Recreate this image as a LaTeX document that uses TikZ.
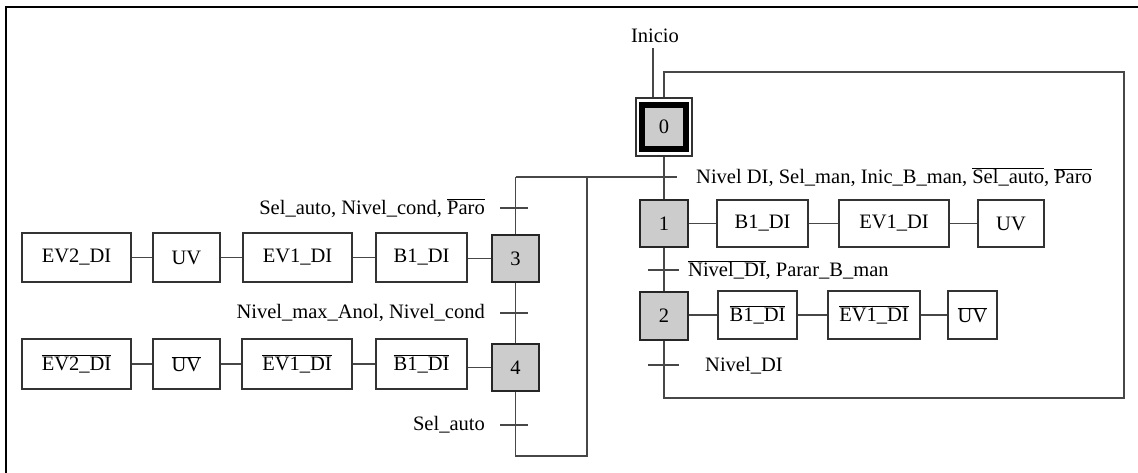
\documentclass[tikz,border=0pt]{standalone}
\usepackage{fontspec}
\setmainfont{Liberation Serif}
\newcommand{\fsz}{\fontsize{20.5}{24}\selectfont}
\newcommand{\ob}[1]{$\overline{\mbox{#1}}$}
\begin{document}
\begin{tikzpicture}[x=1pt,y=-1pt,
  line/.style={draw=black!72, line width=1.3pt},
  stepbox/.style={draw=black!85, line width=1.8pt, fill=black!20, minimum width=47.5pt, minimum height=47.5pt, inner sep=0pt, font=\fsz},
  actbox/.style={draw=black!80, line width=1.2pt, inner sep=0pt, font=\fsz},
  lbl/.style={inner sep=0pt, font=\fsz}]
\useasboundingbox (0,0) rectangle (1138,473);
\draw[line width=2.5pt] (1138,7) -- (6,7) -- (6,473);

% steps
\node[draw=black!80, line width=1.2pt, minimum width=56pt, minimum height=58pt, inner sep=0pt] (s0o) at (664,127) {};
\node[stepbox, minimum width=44pt, minimum height=44pt, line width=6pt, draw=black] (s0) at (664,127) {0};
\node[stepbox] (s1) at (664,223.5) {1};
\node[stepbox] (s2) at (664,316) {2};
\node[stepbox] (s3) at (515.5,258.5) {3};
\node[stepbox] (s4) at (515.5,367.5) {4};

% actions right
\node[actbox, minimum width=91pt, minimum height=47pt] (a11) at (762.5,223.5) {B1\_DI};
\node[actbox, minimum width=110pt, minimum height=47pt] (a12) at (894,223.5) {EV1\_DI};
\node[actbox, minimum width=66pt, minimum height=47pt] (a13) at (1011,223.5) {UV};
\node[actbox, minimum width=79pt, minimum height=48pt] (a21) at (757.5,315) {\ob{B1\_DI}};
\node[actbox, minimum width=92pt, minimum height=48pt] (a22) at (874,315) {\ob{EV1\_DI}};
\node[actbox, minimum width=49pt, minimum height=48pt] (a23) at (972.5,315) {\ob{UV}};

% actions left
\node[actbox, minimum width=91pt, minimum height=49pt] (a31) at (421.5,257.5) {B1\_DI};
\node[actbox, minimum width=109pt, minimum height=49pt] (a32) at (297.5,257.5) {EV1\_DI};
\node[actbox, minimum width=67pt, minimum height=49pt] (a33) at (186.5,257.5) {UV};
\node[actbox, minimum width=109pt, minimum height=49pt] (a34) at (76.5,257.5) {EV2\_DI};
\node[actbox, minimum width=91pt, minimum height=50pt] (a41) at (421.5,364) {\ob{B1\_DI}};
\node[actbox, minimum width=110pt, minimum height=50pt] (a42) at (297,364) {\ob{EV1\_DI}};
\node[actbox, minimum width=67pt, minimum height=50pt] (a43) at (186.5,364) {\ob{UV}};
\node[actbox, minimum width=109pt, minimum height=50pt] (a44) at (76.5,364) {\ob{EV2\_DI}};

% labels
\node[lbl] (inicio) at (655,36) {Inicio};
\node[lbl, anchor=west] (l01) at (696,177) {Nivel DI, Sel\_man, Inic\_B\_man, \ob{Sel\_auto}, \ob{Paro}};
\node[lbl, anchor=west] (l12) at (688,270) {\ob{Nivel\_DI}, Parar\_B\_man};
\node[lbl, anchor=west] (l2) at (705,366) {Nivel\_DI};
\node[lbl, anchor=east] (l3) at (485,208) {Sel\_auto, Nivel\_cond, \ob{Paro}};
\node[lbl, anchor=east] (l34) at (485,313) {Nivel\_max\_Anol, Nivel\_cond};
\node[lbl, anchor=east] (l4) at (485,425) {Sel\_auto};

% coordinates
\coordinate (br3) at (515.5,177);
\coordinate (t01) at (677,177);
\coordinate (lb) at (664,398);
\coordinate (lbr) at (1124,398);
\coordinate (ltr) at (1124,72);
\coordinate (lt) at (664,72);
\coordinate (rb) at (515.5,456);
\coordinate (rbr) at (587,456);
\coordinate (rtr) at (587,177);

% step links
\draw[line] ([xshift=-11pt]s0o.north) -- ([xshift=-11pt,yshift=-5pt]s0o.north |- inicio.south);
\draw[line] (s0o.south) -- (s1.north);
\draw[line] (s1.south) -- (s2.north);
\draw[line] (s2.south) -- (lb) -- (lbr) -- (ltr) -- (lt) -- (s0o.north);
\draw[line] (br3) -- (t01);
\draw[line] (br3) -- (s3.north);
\draw[line] (s3.south) -- (s4.north);
\draw[line] (s4.south) -- (rb) -- (rbr) -- (rtr);

% transition ticks
\draw[line] (648,270) -- (679,270);
\draw[line] (648,365) -- (679,365);
\draw[line] (500,208) -- (528,208);
\draw[line] (500,313) -- (528,313);
\draw[line] (500,425) -- (528,425);

% action links
\draw[line] (s1.east) -- (a11.west |- s1.east);
\draw[line] (a11.east |- a12.west) -- (a12.west);
\draw[line] (a12.east |- a13.west) -- (a13.west);
\draw[line] (s2.east |- a21.west) -- (a21.west);
\draw[line] (a21.east) -- (a22.west |- a21.east);
\draw[line] (a22.east) -- (a23.west |- a22.east);
\draw[line] (s3.west) -- (a31.east |- s3.west);
\draw[line] (a31.west) -- (a32.east |- a31.west);
\draw[line] (a32.west) -- (a33.east |- a32.west);
\draw[line] (a33.west) -- (a34.east |- a33.west);
\draw[line] (s4.west) -- (a41.east |- s4.west);
\draw[line] (a41.west) -- (a42.east |- a41.west);
\draw[line] (a42.west) -- (a43.east |- a42.west);
\draw[line] (a43.west) -- (a44.east |- a43.west);
\end{tikzpicture}
\end{document}
